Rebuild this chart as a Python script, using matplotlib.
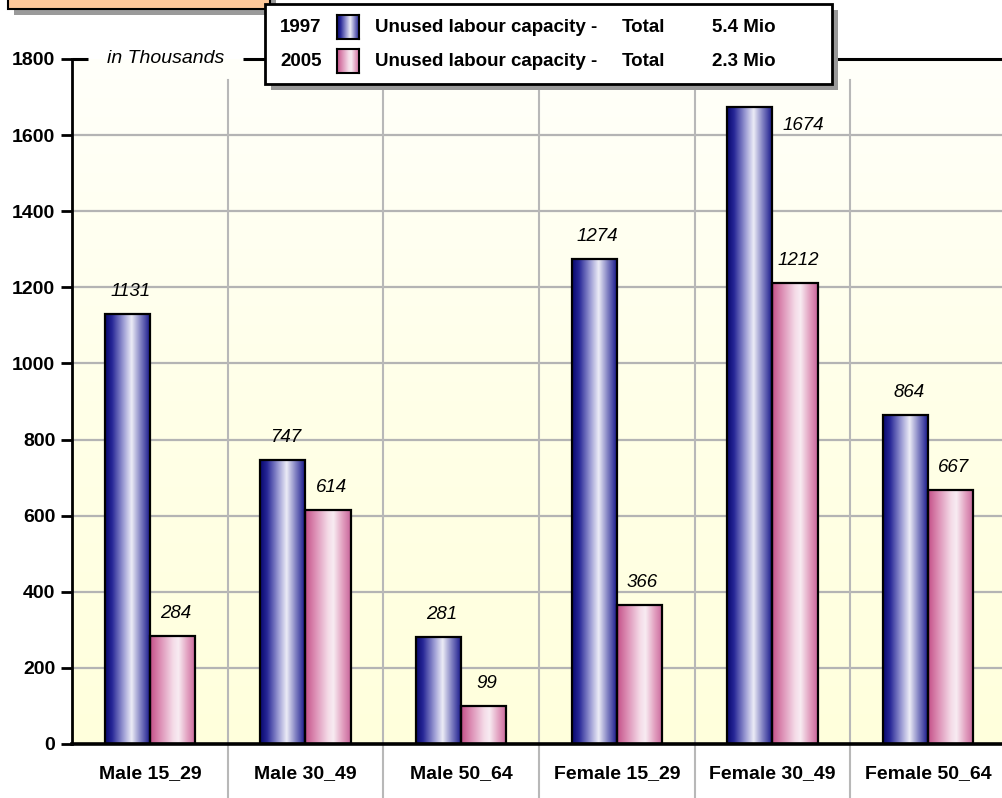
import numpy as np
import matplotlib
matplotlib.use('Agg')
import matplotlib.pyplot as plt
from matplotlib.colors import LinearSegmentedColormap
from matplotlib.patches import Rectangle
from matplotlib.transforms import blended_transform_factory

plt.rcParams['font.family'] = ['Liberation Sans', 'DejaVu Sans']

# data (thousands)
categories = ['Male 15_29', 'Male 30_49', 'Male 50_64',
              'Female 15_29', 'Female 30_49', 'Female 50_64']
vals_1997 = [1131, 747, 281, 1274, 1674, 864]
vals_2005 = [284, 614, 99, 366, 1212, 667]
years = ['1997', '2005']
totals = [5.4, 2.3]
yticks = [0, 200, 400, 600, 800, 1000, 1200, 1400, 1600, 1800]

W, H = 1002, 798
fig = plt.figure(figsize=(W / 100, H / 100), dpi=100)
ax = fig.add_axes([72 / W, 54 / H, 934 / W, 685 / H])
ax.set_xlim(-0.5, 5.5)
ax.set_ylim(0, 1800)

# cylinder-like shading for the bars
blue_cmap = LinearSegmentedColormap.from_list('blue', [
    (0.0, '#08086e'), (0.15, '#262696'), (0.42, '#a4a4d8'),
    (0.58, '#ececf6'), (0.78, '#8080c2'), (1.0, '#101086')])
pink_cmap = LinearSegmentedColormap.from_list('pink', [
    (0.0, '#c45088'), (0.2, '#da88b0'), (0.5, '#f4dbe7'),
    (0.62, '#f8ecf2'), (0.82, '#e2a0c0'), (1.0, '#c8649a')])
grad = np.linspace(0, 1, 256).reshape(1, -1)

# background: pale yellow fading towards white at the top
bg = LinearSegmentedColormap.from_list('bg', ['#ffffdc', '#ffffe8', '#fffffa'])
ax.imshow(np.linspace(0, 1, 256).reshape(-1, 1), cmap=bg, origin='lower',
          extent=[-0.5, 5.5, 0, 1800], aspect='auto', zorder=0)

# grid
for y in yticks[1:-1]:
    ax.axhline(y, color='#b4b4b4', lw=1.6, zorder=1)
for xb in np.arange(0.5, 5.5, 1):
    ax.axvline(xb, ymin=-54 / 685, ymax=0.97, color='#b8b8b8', lw=1.5,
               clip_on=False, zorder=1)

x = np.arange(len(categories))
bw = 0.29
bars1 = ax.bar(x - bw / 2, vals_1997, bw, facecolor='none', edgecolor='black',
               lw=1.6, zorder=4)
bars2 = ax.bar(x + bw / 2, vals_2005, bw, facecolor='none', edgecolor='black',
               lw=1.6, zorder=4)
for bars, cmap in [(bars1, blue_cmap), (bars2, pink_cmap)]:
    for b in bars:
        bx, by = b.get_x(), b.get_y()
        ax.imshow(grad, cmap=cmap, aspect='auto', zorder=3,
                  extent=[bx, bx + b.get_width(), by, by + b.get_height()])
ax.set_xlim(-0.5, 5.5)
ax.set_ylim(0, 1800)

# value labels
for bars in (bars1, bars2):
    for b in bars:
        v = b.get_height()
        cx = b.get_x() + b.get_width() / 2
        if v > 1600:
            ax.annotate(f'{v:.0f}', (b.get_x() + b.get_width(), v),
                        xytext=(10, -19), textcoords='offset pixels',
                        ha='left', va='center', fontsize=13.5,
                        style='italic', zorder=6)
        else:
            ax.annotate(f'{v:.0f}', (cx, v), xytext=(3, 14),
                        textcoords='offset pixels', ha='center',
                        va='bottom', fontsize=13.5, style='italic', zorder=6)

# frame lines; the top one is broken by the unit label
ax.axhline(0, color='black', lw=2.6, zorder=5, clip_on=False)
trans = blended_transform_factory(ax.transAxes, ax.transData)
ax.plot([0, 16 / 934], [1800, 1800], color='black', lw=2.2, transform=trans,
        clip_on=False, zorder=5, solid_capstyle='butt')
ax.plot([171 / 934, 1], [1800, 1800], color='black', lw=2.2, transform=trans,
        clip_on=False, zorder=5, solid_capstyle='butt')
for s in ['top', 'right', 'bottom']:
    ax.spines[s].set_visible(False)
ax.spines['left'].set_linewidth(2)
ax.spines['left'].set_zorder(5)

ax.set_yticks(yticks)
ax.set_yticklabels([str(t) for t in yticks], fontsize=14, fontweight='bold')
ax.tick_params(axis='y', length=8, width=2, pad=4)
ax.set_xticks(x)
ax.set_xticklabels(categories, fontsize=14, fontweight='bold')
ax.tick_params(axis='x', length=0, pad=15)

ax.text(94 / 934, 1800, 'in Thousands', transform=trans, ha='center',
        va='center', fontsize=14, style='italic', zorder=7, clip_on=False)


def fx(px):
    return px / W


def fy(py):
    return 1 - py / H


# title box at the top left
fig.patches.append(Rectangle((fx(14), fy(15)), fx(262), fy(0) - fy(15) + 0.01,
                             transform=fig.transFigure, facecolor='#9a9a9a',
                             edgecolor='none', zorder=8))
fig.patches.append(Rectangle((fx(8), fy(9)), fx(262), fy(-10) - fy(9),
                             transform=fig.transFigure, facecolor='#fdc89a',
                             edgecolor='black', lw=1.5, zorder=9))

# legend box
lx0, lx1, ly0, ly1 = 265, 832, 4, 84
fig.patches.append(Rectangle((fx(lx0 + 6), fy(ly1 + 6)), fx(lx1 - lx0), fy(ly0) - fy(ly1),
                             transform=fig.transFigure, facecolor='#999999',
                             edgecolor='none', zorder=8))
fig.patches.append(Rectangle((fx(lx0), fy(ly1)), fx(lx1 - lx0), fy(ly0) - fy(ly1),
                             transform=fig.transFigure, facecolor='white',
                             edgecolor='black', lw=2, zorder=9))

row_y = [27, 61]
for i, (yr, tot, cmap) in enumerate(zip(years, totals, [blue_cmap, pink_cmap])):
    yy = fy(row_y[i])
    fig.text(fx(280), yy, yr, ha='left', va='center', fontsize=13.5,
             fontweight='bold', zorder=10)
    sw = fig.add_axes([fx(337), fy(row_y[i] + 12), fx(22), fy(0) - fy(24)])
    sw.imshow(grad, cmap=cmap, aspect='auto')
    sw.set_xticks([])
    sw.set_yticks([])
    for s in sw.spines.values():
        s.set_linewidth(1.5)
    sw.set_zorder(11)
    fig.text(fx(375), yy, 'Unused labour capacity -', ha='left', va='center',
             fontsize=13.5, fontweight='bold', zorder=10)
    fig.text(fx(622), yy, 'Total', ha='left', va='center', fontsize=13.5,
             fontweight='bold', zorder=10)
    fig.text(fx(712), yy, f'{tot} Mio', ha='left', va='center', fontsize=13.5,
             fontweight='bold', zorder=10)

fig.savefig('out.png', dpi=100)
